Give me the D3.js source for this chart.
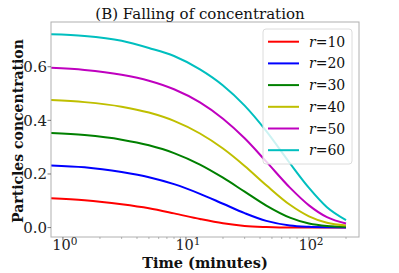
<!DOCTYPE html>
<html><head><meta charset="utf-8">
<script src="https://cdn.jsdelivr.net/npm/d3@7"></script>
<style>body{margin:0;background:#fff}svg{display:block}</style>
</head><body>
<script>
const times = [0.8, 1.5, 3, 5, 8, 13, 20, 30, 45, 70, 100, 140, 200];
const r10 = [0.109, 0.102, 0.087, 0.072, 0.053, 0.032, 0.016, 0.006, 0.002, 0.000, 0.000, 0.000, 0.000];
const r20 = [0.232, 0.225, 0.207, 0.188, 0.162, 0.126, 0.089, 0.054, 0.025, 0.008, 0.003, 0.001, 0.000];
const r30 = [0.353, 0.345, 0.328, 0.307, 0.278, 0.235, 0.186, 0.134, 0.082, 0.037, 0.015, 0.006, 0.003];
const r40 = [0.476, 0.468, 0.451, 0.429, 0.398, 0.351, 0.295, 0.230, 0.158, 0.085, 0.042, 0.018, 0.008];
const r50 = [0.596, 0.588, 0.570, 0.548, 0.516, 0.467, 0.406, 0.333, 0.246, 0.149, 0.083, 0.039, 0.015];
const r60 = [0.721, 0.715, 0.697, 0.670, 0.640, 0.590, 0.530, 0.455, 0.360, 0.240, 0.148, 0.076, 0.028];
const seriesNames = ["10", "20", "30", "40", "50", "60"];
const seriesValues = [r10, r20, r30, r40, r50, r60];
const colors = ["#ff0000", "#0000ff", "#008000", "#bfbf00", "#bf00bf", "#00bfbf"];
const yTicks = [0.0, 0.2, 0.4, 0.6];
const xMajorTicks = [1, 10, 100];
const xMinorTicks = [2,3,4,5,6,7,8,9,20,30,40,50,60,70,80,90,200];

const W = 399, H = 273;
const L = 51, R = 359, T = 22, B = 237;
const svg = d3.select("body").append("svg").attr("width", W).attr("height", H);
const x = d3.scaleLog().domain([0.8, 255]).range([L, R]);
const y = d3.scaleLinear().domain([-0.0351, 0.7669]).range([B, T]);
const serif = "'DejaVu Serif', serif";

svg.append("defs").append("clipPath").attr("id", "clip")
  .append("rect").attr("x", L).attr("y", T).attr("width", R - L).attr("height", B - T);

const line = d3.line().x((d, i) => x(times[i])).y(d => y(d)).curve(d3.curveMonotoneX);
const g = svg.append("g").attr("clip-path", "url(#clip)");
seriesValues.forEach((vals, k) => {
  g.append("path").attr("d", line(vals)).attr("fill", "none")
    .attr("stroke", colors[k]).attr("stroke-width", 2);
});

// frame
svg.append("rect").attr("x", L).attr("y", T).attr("width", R - L).attr("height", B - T)
  .attr("fill", "none").attr("stroke", "#b0b0b0").attr("stroke-width", 1);

// y axis ticks
yTicks.forEach(v => {
  svg.append("line").attr("x1", L - 3.5).attr("x2", L).attr("y1", y(v)).attr("y2", y(v))
    .attr("stroke", "#555").attr("stroke-width", 0.8);
  svg.append("text").attr("x", L - 4).attr("y", y(v) + 5.2).attr("text-anchor", "end")
    .attr("font-family", serif).attr("font-size", 15).attr("fill", "#222").text(v.toFixed(1));
});
// x axis ticks
xMinorTicks.forEach(v => {
  svg.append("line").attr("x1", x(v)).attr("x2", x(v)).attr("y1", B).attr("y2", B + 2)
    .attr("stroke", "#888").attr("stroke-width", 0.6);
});
xMajorTicks.forEach(v => {
  svg.append("line").attr("x1", x(v)).attr("x2", x(v)).attr("y1", B).attr("y2", B + 3.5)
    .attr("stroke", "#555").attr("stroke-width", 0.8);
  const t = svg.append("text").attr("x", x(v) + 2).attr("y", 250).attr("text-anchor", "middle")
    .attr("font-family", serif).attr("font-size", 14.5).attr("fill", "#222");
  t.append("tspan").text("10");
  t.append("tspan").attr("dy", -5.5).attr("font-size", 10.5).text(String(Math.round(Math.log10(v))));
});

// labels
svg.append("text").attr("x", 205).attr("y", 268).attr("text-anchor", "middle")
  .attr("font-family", serif).attr("font-weight", "bold").attr("font-size", 14.5)
  .attr("fill", "#111").text("Time (minutes)");
svg.append("text").attr("transform", "translate(23,131) rotate(-90)").attr("text-anchor", "middle")
  .attr("font-family", serif).attr("font-weight", "bold").attr("font-size", 14)
  .attr("fill", "#111").text("Particles concentration");
svg.append("text").attr("x", 200).attr("y", 18.5).attr("text-anchor", "middle")
  .attr("font-family", serif).attr("font-size", 15).attr("fill", "#111")
  .text("(B) Falling of concentration");

// legend
const lg = svg.append("g");
lg.append("rect").attr("x", 263).attr("y", 29).attr("width", 89).attr("height", 135)
  .attr("rx", 3).attr("fill", "#fff").attr("fill-opacity", 0.8)
  .attr("stroke", "#dcdcdc").attr("stroke-width", 1);
seriesNames.forEach((n, k) => {
  const yy = 41.7 + k * 21.7;
  lg.append("line").attr("x1", 268).attr("x2", 299).attr("y1", yy).attr("y2", yy)
    .attr("stroke", colors[k]).attr("stroke-width", 2);
  const t = lg.append("text").attr("x", 309).attr("y", yy + 5).attr("font-family", serif)
    .attr("font-size", 14).attr("fill", "#111");
  t.append("tspan").attr("font-style", "italic").text("r");
  t.append("tspan").text("=" + n);
});
</script>
</body></html>
